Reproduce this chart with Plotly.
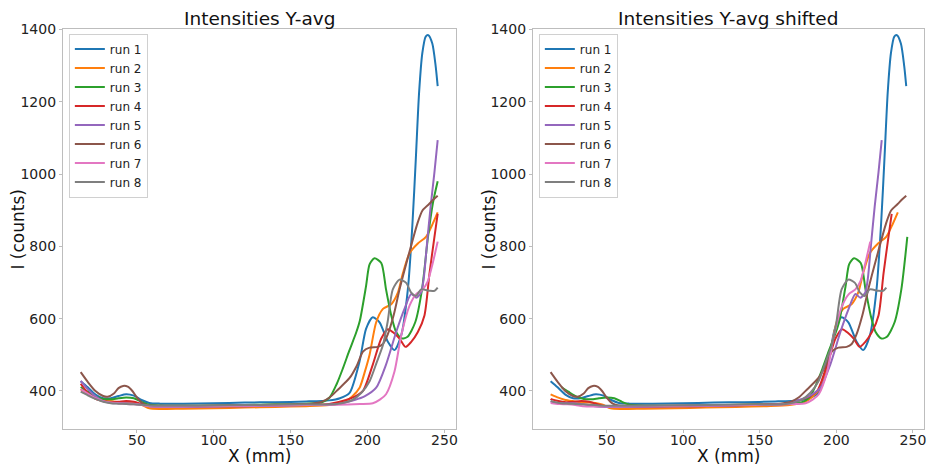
import numpy as np
import plotly.graph_objects as go

run_names = ["run 1", "run 2", "run 3", "run 4", "run 5", "run 6", "run 7", "run 8"]
colors = ["#1f77b4", "#ff7f0e", "#2ca02c", "#d62728", "#9467bd", "#8c564b", "#e377c2", "#7f7f7f"]

run1_x = [13.4, 18, 23, 28, 33, 38, 43, 48, 53, 58, 65, 80, 100, 120, 140, 160, 175, 182, 188.3, 194.8, 199, 203.4, 207.8, 213.2, 217.5, 221.9, 226.2, 229.2, 231.4, 233.5, 235.6, 237.8, 239.5, 242.1, 244.3, 245.6]
run1_y = [427, 410, 390, 380, 380, 386, 391, 387, 375, 367, 365, 365, 366, 368, 369, 371, 374, 380, 395, 482, 572, 604, 590, 536, 513, 554, 681, 863, 1044, 1225, 1334, 1380, 1384, 1361, 1298, 1243]

run2_x = [13.4, 18, 23, 28, 33, 38, 43, 48, 53, 58, 65, 80, 100, 120, 140, 160, 175, 185, 190, 194.8, 198, 201.3, 205.6, 210, 215.4, 219.7, 223, 227.3, 232.7, 238, 242.4, 245.6]
run2_y = [405, 392, 383, 376, 372, 369, 368, 367, 362, 352, 350, 351, 352, 354, 356, 358, 361, 370, 385, 409, 450, 500, 590, 627, 640, 672, 726, 781, 808, 826, 863, 894]

run3_x = [13.4, 18, 23, 28, 33, 38, 43, 48, 53, 58, 65, 80, 100, 120, 140, 160, 170, 175.3, 180, 184, 188, 192.7, 195, 199, 201.3, 204.5, 208.9, 212, 215.4, 218.6, 222.4, 226, 231, 235.4, 239.3, 242.5, 245.6]
run3_y = [411, 398, 385, 378, 377, 380, 382, 380, 370, 362, 360, 359, 360, 361, 363, 365, 368, 382, 420, 463, 510, 563, 595, 690, 750, 767, 754, 681, 609, 563, 545, 550, 590, 681, 826, 920, 980]

run4_x = [13.4, 18, 23, 28, 33, 38, 43, 48, 53, 58, 65, 80, 100, 120, 140, 160, 175, 186, 192, 197, 203.4, 208.9, 213.2, 217.5, 220.8, 224.7, 228.4, 232.7, 237, 240.3, 243.5, 245.6]
run4_y = [420, 395, 378, 372, 369, 370, 372, 370, 364, 358, 356, 356, 357, 358, 360, 362, 364, 375, 385, 400, 473, 545, 571, 559, 545, 522, 536, 563, 609, 726, 826, 890]

run5_x = [13.4, 18, 23, 28, 33, 38, 43, 48, 53, 58, 65, 80, 100, 120, 140, 160, 180, 191.5, 198, 205.6, 212, 218.6, 224, 228.4, 231.6, 234.8, 236.5, 238.5, 241, 243.5, 245.6]
run5_y = [428, 405, 385, 372, 367, 366, 366, 365, 362, 358, 356, 356, 357, 358, 359, 361, 363, 375, 385, 409, 473, 563, 627, 668, 658, 672, 710, 800, 910, 1005, 1094]

run6_x = [13.4, 18, 23, 28, 31, 35, 38, 41, 44, 47, 50, 54, 58, 65, 80, 100, 120, 140, 160, 170, 175.3, 181, 188.3, 193, 197, 201.3, 206.7, 210, 213, 217, 220.8, 227, 232.4, 235.7, 240, 243.2, 245.6]
run6_y = [452, 425, 400, 386, 384, 393, 408, 414, 412, 400, 382, 365, 360, 359, 359, 360, 361, 362, 364, 370, 382, 405, 436, 470, 509, 520, 522, 530, 555, 610, 681, 781, 863, 899, 917, 931, 940]

run7_x = [13.4, 18, 23, 28, 33, 38, 43, 48, 53, 58, 65, 80, 100, 120, 140, 160, 180, 195, 203.4, 208, 212, 217.5, 221.9, 227.3, 231.6, 235.9, 239.2, 242.4, 245.6]
run7_y = [405, 393, 380, 372, 368, 366, 364, 363, 361, 358, 357, 357, 358, 359, 360, 361, 362, 364, 366, 376, 391, 454, 554, 636, 668, 681, 704, 754, 813]

run8_x = [13.4, 18, 23, 28, 33, 38, 43, 48, 53, 58, 65, 80, 100, 120, 140, 160, 180, 190, 196, 201.3, 206, 210, 213, 216.4, 220.8, 225.1, 228.4, 231.6, 234.8, 240.3, 243.5, 245.6]
run8_y = [398, 388, 378, 370, 366, 365, 364, 363, 362, 360, 359, 359, 360, 361, 362, 363, 364, 375, 395, 427, 480, 527, 590, 681, 708, 699, 672, 663, 681, 677, 677, 686]

# x shift applied to each run in the right panel
shifts = [0, -5.5, 7, -9.5, -16, 0, -23.5, -13]

x_ticks = [50, 100, 150, 200, 250]
y_ticks = [400, 600, 800, 1000, 1200, 1400]

runs_x = [run1_x, run2_x, run3_x, run4_x, run5_x, run6_x, run7_x, run8_x]
runs_y = [run1_y, run2_y, run3_y, run4_y, run5_y, run6_y, run7_y, run8_y]

X_LO, X_HI = 13.4, 246.3


def shifted(x, y, s):
    xs = np.asarray(x, dtype=float) + s
    ys = np.asarray(y, dtype=float)
    keep = (xs >= X_LO) & (xs <= X_HI)
    xo, yo = list(xs[keep]), list(ys[keep])
    if xs[0] < X_LO:
        xo.insert(0, X_LO)
        yo.insert(0, float(np.interp(X_LO, xs, ys)))
    if xs[-1] > X_HI:
        xo.append(X_HI)
        yo.append(float(np.interp(X_HI, xs, ys)))
    return xo, yo


FONT = "DejaVu Sans"
fig = go.Figure()
for i in range(8):
    fig.add_trace(go.Scatter(x=runs_x[i], y=runs_y[i], mode="lines", name=run_names[i],
                             line=dict(color=colors[i], width=2, shape="spline", smoothing=0.7),
                             xaxis="x", yaxis="y", legend="legend"))
for i in range(8):
    xs, ys = shifted(runs_x[i], runs_y[i], shifts[i])
    fig.add_trace(go.Scatter(x=xs, y=ys, mode="lines", name=run_names[i],
                             line=dict(color=colors[i], width=2, shape="spline", smoothing=0.7),
                             xaxis="x2", yaxis="y2", legend="legend2"))

W, H = 928, 467
L1, R1 = 63, 456.5
L2, R2 = 534, 926
T, B = 22, 428
ydom = [1 - B / H, 1 - T / H]

axis_common = dict(showline=True, mirror=True, linecolor="#bdbdbd", linewidth=1,
                   ticks="outside", ticklen=3, tickcolor="#bdbdbd", showgrid=False,
                   zeroline=False, tickfont=dict(family=FONT, size=14, color="#222"))

legend_common = dict(yanchor="top", xanchor="left", bgcolor="rgba(255,255,255,0.8)",
                     bordercolor="#d0d0d0", borderwidth=1,
                     font=dict(family=FONT, size=12, color="#222"), tracegroupgap=0)

fig.update_layout(
    width=W, height=H, margin=dict(l=0, r=0, t=0, b=0),
    paper_bgcolor="white", plot_bgcolor="white",
    xaxis=dict(domain=[L1 / W, R1 / W], range=[1.8, 257.2], tickvals=x_ticks, anchor="y",
               ticklabelstandoff=-4, **axis_common),
    yaxis=dict(domain=ydom, range=[296, 1402], tickvals=y_ticks, anchor="x", **axis_common),
    xaxis2=dict(domain=[L2 / W, R2 / W], range=[1.8, 257.2], tickvals=x_ticks, anchor="y2",
                ticklabelstandoff=-4, **axis_common),
    yaxis2=dict(domain=ydom, range=[296, 1402], tickvals=y_ticks, anchor="x2", **axis_common),
    legend=dict(x=69 / W, y=1 - 27 / H, **legend_common),
    legend2=dict(x=(L2 + 6) / W, y=1 - 27 / H, **legend_common),
    showlegend=True,
)

ann = []
for (l, r, title) in [(L1, R1, "Intensities Y-avg"), (L2, R2, "Intensities Y-avg shifted")]:
    cx = (l + r) / 2 / W
    ann.append(dict(text=title, x=cx, y=1 - 12 / H, xref="paper", yref="paper", showarrow=False,
                    xanchor="center", yanchor="middle", font=dict(family=FONT, size=18.5, color="#111")))
    ann.append(dict(text="X (mm)", x=cx, y=1 - 456 / H, xref="paper", yref="paper", showarrow=False,
                    xanchor="center", yanchor="middle", font=dict(family=FONT, size=17, color="#111")))
for lx in [18, 490]:
    ann.append(dict(text="I (counts)", x=lx / W, y=(1 - (T + B) / 2 / H), xref="paper", yref="paper",
                    showarrow=False, textangle=-90, xanchor="center", yanchor="middle",
                    font=dict(family=FONT, size=17, color="#111")))
fig.update_layout(annotations=ann)

fig.write_html("out.html", config={"displayModeBar": False},
               post_script="document.body.style.margin='0';document.body.style.padding='0';"
                           "document.documentElement.style.overflow='hidden';")
